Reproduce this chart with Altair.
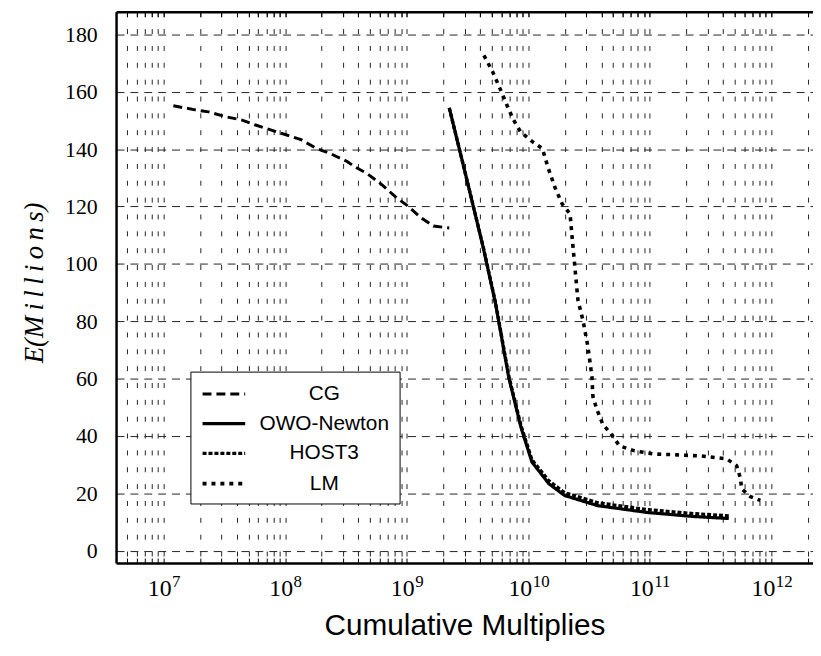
import altair as alt
import pandas as pd

series_names = ["CG", "OWO-Newton", "HOST3", "LM"]

# log10 of cumulative multiplies, and E in millions
cg_log10_mults = [7.08, 7.26, 7.37, 7.51, 7.64, 7.75, 7.88, 8.00, 8.13, 8.26,
                  8.37, 8.51, 8.57, 8.67, 8.79, 8.92, 9.00, 9.12, 9.22, 9.35]
cg_error = [155.1, 153.7, 153.0, 151.3, 150.2, 148.5, 146.7, 145.1, 143.3, 140.2,
            138.5, 135.7, 133.9, 131.6, 127.8, 122.9, 120.5, 116.0, 113.2, 112.5]

owo_log10_mults = [9.35, 9.49, 9.63, 9.73, 9.84, 9.94, 10.03, 10.17, 10.30,
                   10.57, 10.98, 11.36, 11.65]
owo_error = [154.4, 130.2, 105.6, 86.3, 60.3, 43.0, 30.9, 23.3, 19.2,
             15.7, 13.3, 11.9, 11.2]

host3_log10_mults = [9.35, 9.49, 9.63, 9.73, 9.84, 9.94, 10.03, 10.17, 10.30,
                     10.57, 10.98, 11.36, 11.65]
host3_error = [154.4, 130.2, 105.8, 86.6, 60.8, 43.6, 31.7, 24.3, 20.2,
               16.7, 14.3, 12.9, 12.1]

lm_log10_mults = [9.635, 9.708, 9.773, 9.838, 9.879, 9.936, 10.034, 10.116, 10.165,
                  10.222, 10.279, 10.344, 10.369, 10.409, 10.450, 10.491, 10.524,
                  10.532, 10.564, 10.613, 10.670, 10.752, 10.874, 11.038, 11.225,
                  11.421, 11.633, 11.715, 11.747, 11.755, 11.829, 11.910]
lm_error = [172.7, 166.9, 160.6, 154.0, 150.2, 146.1, 142.6, 140.2, 133.3,
            126.4, 120.9, 117.4, 105.6, 87.3, 80.4, 71.1, 60.7,
            53.8, 49.3, 44.1, 41.3, 36.5, 34.8, 33.7, 33.4,
            33.0, 32.0, 29.6, 25.1, 21.6, 18.8, 17.5]

x_label_values = [10 ** 7, 10 ** 8, 10 ** 9, 10 ** 10, 10 ** 11, 10 ** 12]
x_label_bases = ["10", "10", "10", "10", "10", "10"]
x_label_exponents = ["7", "8", "9", "10", "11", "12"]
y_tick_values = [0, 20, 40, 60, 80, 100, 120, 140, 160, 180]

rows = []
for name, lx, ys_ in [("CG", cg_log10_mults, cg_error),
                      ("OWO-Newton", owo_log10_mults, owo_error),
                      ("HOST3", host3_log10_mults, host3_error),
                      ("LM", lm_log10_mults, lm_error)]:
    for i, (a, b) in enumerate(zip(lx, ys_)):
        rows.append({"series": name, "mults": 10 ** a, "E": b, "idx": i})
df = pd.DataFrame(rows)

W, H = 703, 556
x_dom = [10 ** 6.6085, 10 ** 12.343]
y_dom = [-4.3, 187.9]

x_tick_values = [m * 10 ** e for e in range(6, 13) for m in range(1, 10)
                 if x_dom[0] <= m * 10 ** e <= x_dom[1]]


def expr_for(texts):
    return " : ".join(f"datum.value == {v} ? '{t}'" for v, t in zip(x_label_values, texts)) + " : ''"


dash_patterns = [[9, 5], [1, 0], [4, 2], [4, 5]]
line_widths = [3, 3.6, 3, 3]

xs = alt.Scale(type="log", domain=x_dom, nice=False)
ysc = alt.Scale(domain=y_dom, nice=False, zero=False)

two_digit = "datum.value >= 10000000000"

lines = alt.Chart(df).mark_line(color="black").encode(
    x=alt.X("mults:Q", scale=xs, title="Cumulative Multiplies",
            axis=alt.Axis(values=x_tick_values, labelExpr=expr_for(x_label_bases),
                          grid=True, gridDash=[5, 12], gridColor="#222", gridWidth=1,
                          ticks=False, tickSize=0, domain=True, domainColor="black", domainWidth=2.5,
                          labelFont="Liberation Serif", labelFontSize=24, labelColor="black",
                          labelBaseline="alphabetic", labelPadding=33, labelFlush=False, labelOverlap=False,
                          labelAlign="center",
                          labelOffset={"condition": {"test": two_digit, "value": -8.5}, "value": -4.5},
                          titleFont="Liberation Sans", titleFontSize=30, titleFontWeight="normal",
                          titleColor="black", titleY=72, titleBaseline="alphabetic")),
    y=alt.Y("E:Q", scale=ysc, title="E(M\u2009i\u2009l\u2009l\u2009i\u2009o\u2009n\u2009s)",
            axis=alt.Axis(values=y_tick_values, format="d",
                          grid=True, gridDash=[8, 6], gridColor="#222", gridWidth=1,
                          ticks=False, tickSize=0, domain=True, domainColor="black", domainWidth=2.5,
                          labelFont="Liberation Serif", labelFontSize=22, labelColor="black",
                          labelPadding=19, labelFlush=False, labelOverlap=False,
                          titleFont="Liberation Serif", titleFontStyle="italic", titleFontSize=27,
                          titleFontWeight="normal", titleColor="black",
                          titleX=-74, titleY=273, titleBaseline="alphabetic", titleAlign="center")),
    strokeDash=alt.StrokeDash("series:N", scale=alt.Scale(domain=series_names, range=dash_patterns),
                              legend=alt.Legend(title=None, orient="none", legendX=75, legendY=363,
                                                direction="vertical", symbolType="M-1,0H3",
                                                symbolSize=462, symbolStrokeWidth=3,
                                                symbolStrokeColor="black", symbolFillColor="transparent",
                                                labelFont="Liberation Sans", labelFontSize=21,
                                                labelColor="black", labelAlign="center",
                                                labelOffset=99, labelLimit=400,
                                                strokeColor="black", fillColor="white",
                                                padding=10, rowPadding=7, cornerRadius=0)),
    strokeWidth=alt.StrokeWidth("series:N", scale=alt.Scale(domain=series_names, range=line_widths),
                                legend=None),
    order="idx:Q",
)

exponent_axis = alt.Chart(df).mark_point(opacity=0, size=1).encode(
    x=alt.X("mults:Q", scale=xs, title=None,
            axis=alt.Axis(orient="bottom", values=x_label_values, labelExpr=expr_for(x_label_exponents),
                          grid=False, ticks=False, tickSize=0, domain=False,
                          labelFont="Liberation Serif", labelFontSize=17, labelColor="black",
                          labelBaseline="alphabetic", labelPadding=24, labelFlush=False,
                          labelOverlap=False, labelAlign="left",
                          labelOffset={"condition": {"test": two_digit, "value": 4}, "value": 8})),
    y=alt.Y("E:Q", scale=ysc, axis=None),
)

top_frame = alt.Chart(df).mark_point(opacity=0, size=1).encode(
    x=alt.X("mults:Q", scale=xs, title=None,
            axis=alt.Axis(orient="bottom", offset=-H, values=x_tick_values, labels=False, grid=False,
                          ticks=True, tickSize=5, tickColor="black", tickWidth=1,
                          domain=True, domainColor="black", domainWidth=2.5)),
    y=alt.Y("E:Q", scale=ysc, axis=None),
)

bottom_ticks = alt.Chart(df).mark_point(opacity=0, size=1).encode(
    x=alt.X("mults:Q", scale=xs, title=None,
            axis=alt.Axis(orient="top", offset=-H, values=x_tick_values, labels=False, grid=False,
                          ticks=True, tickSize=5, tickColor="black", tickWidth=1, domain=False)),
    y=alt.Y("E:Q", scale=ysc, axis=None),
)

chart = alt.layer(lines, exponent_axis, top_frame, bottom_ticks).resolve_scale(
    x="shared", y="shared"
).resolve_axis(
    x="independent", y="independent"
).properties(
    width=W, height=H,
    autosize=alt.AutoSizeParams(type="none"),
    padding={"left": 109, "top": 1, "right": 0, "bottom": 85},
    background="white",
).configure_view(stroke=None)

chart.save("out.html", embed_options={"renderer": "svg", "actions": False})
